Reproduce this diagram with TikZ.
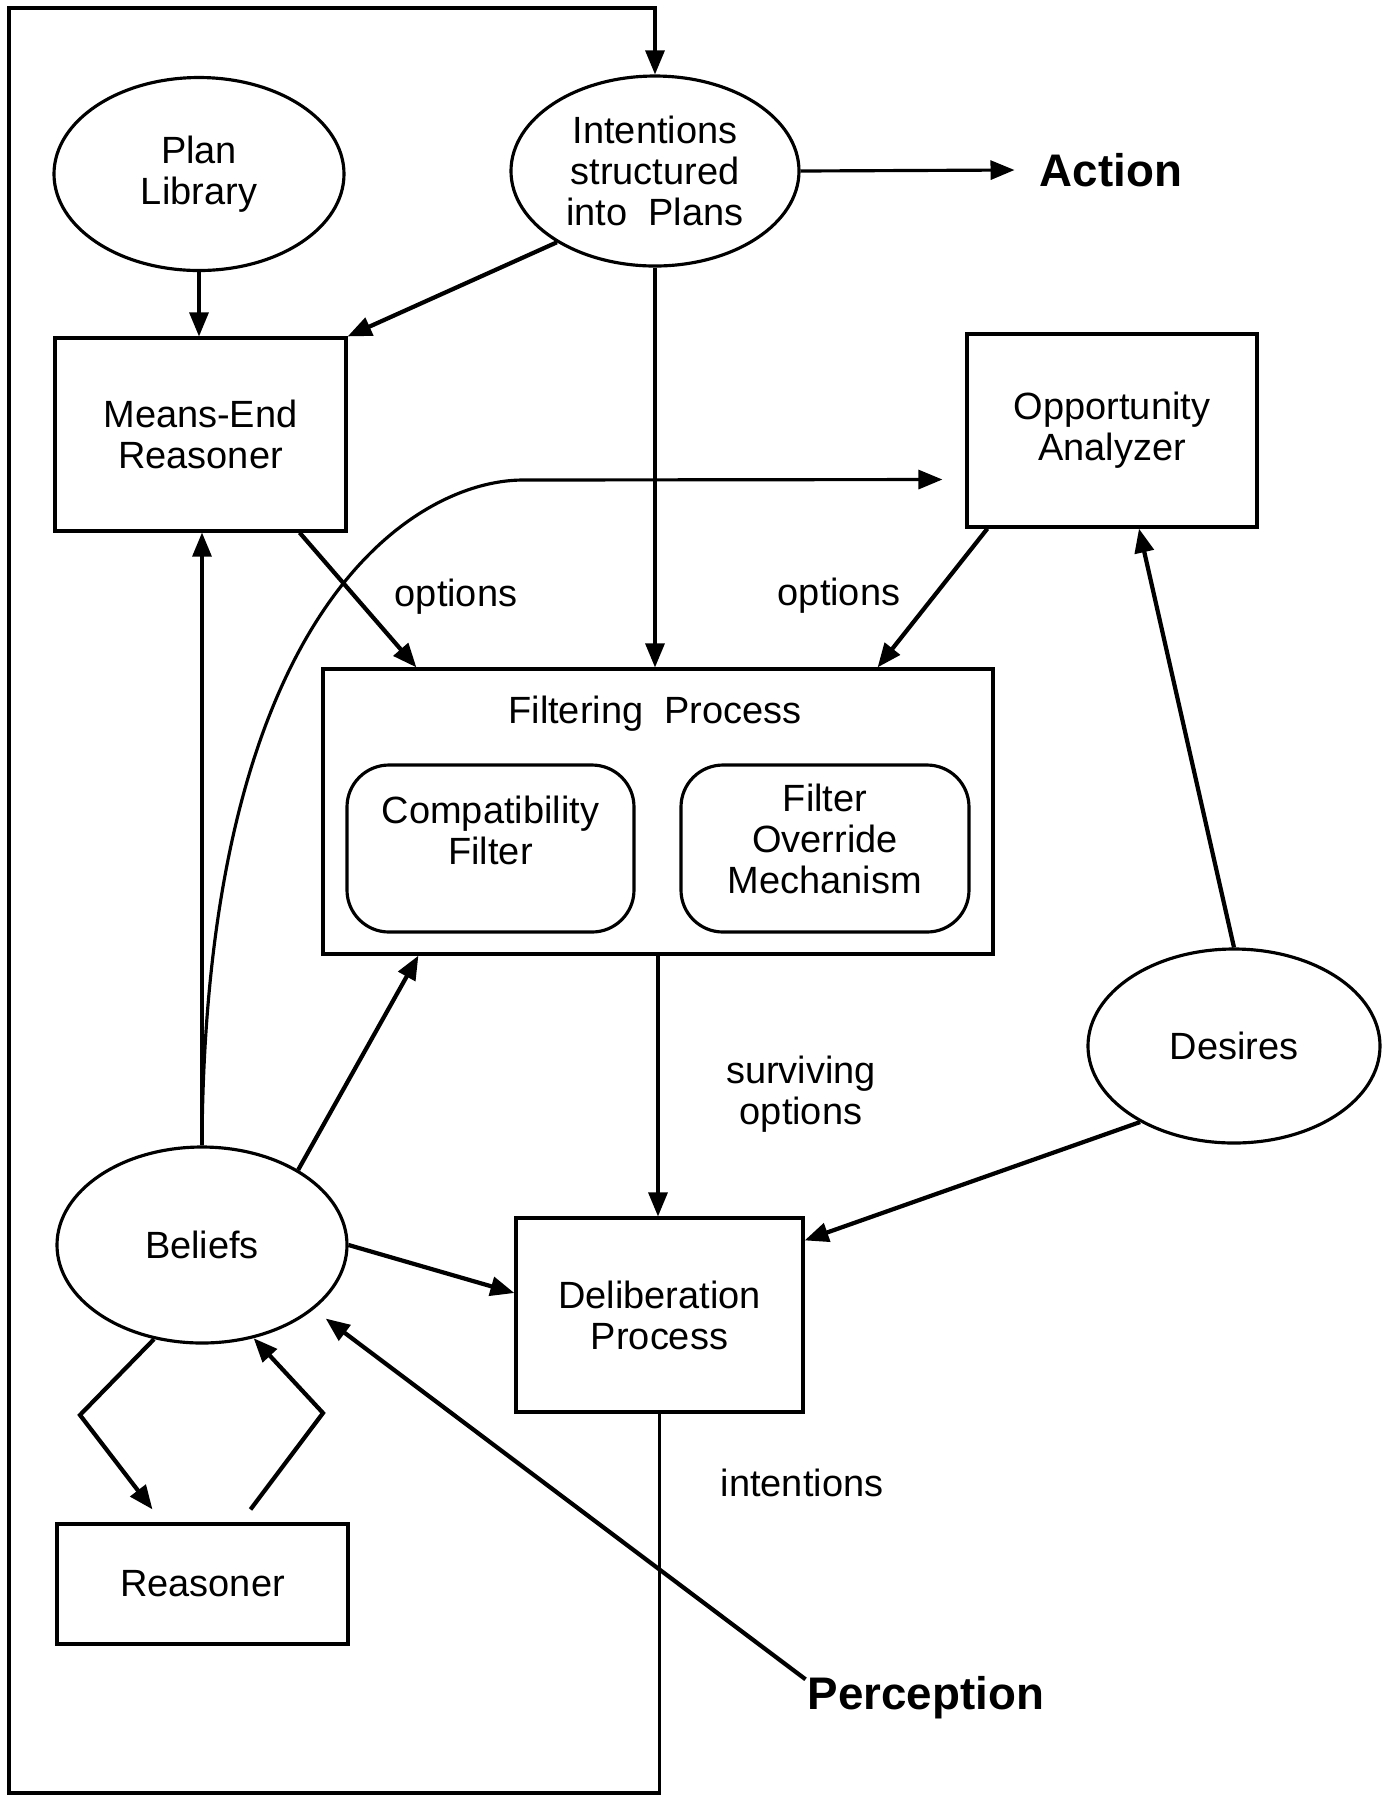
\documentclass[tikz,border=0pt]{standalone}
\usepackage{fontspec}
\setmainfont{Liberation Sans}
\usetikzlibrary{arrows.meta,shapes.geometric}
\tikzset{
    txt/.style={align=center, font=\fontsize{10.8}{11.7}\selectfont},
    box/.style={txt, draw, line width=0.9pt, inner sep=0pt},
    ell/.style={box, ellipse},
    fbox/.style={draw, line width=0.9pt, rounded corners=0.42cm, inner sep=0pt},
    big/.style={font=\fontsize{13}{15}\selectfont\bfseries},
    arr/.style={-{Triangle[length=0.24cm,width=0.19cm]}, line width=0.9pt},
    tarr/.style={arr, line width=1.2pt}
}
\begin{document}
\begin{tikzpicture}
        \useasboundingbox (0,0) rectangle (13.83,-17.97);
        \coordinate (bk) at (5.23,-4.80);
        \coordinate (lpa) at (0.09,-17.93);
        \coordinate (lpb) at (0.09,-0.08);
        \coordinate (lb) at (0.80,-14.15);
        \coordinate (rb) at (3.23,-14.13);
        \node (pl) at (1.99,-1.74) [ell, minimum width=2.90cm, minimum height=1.93cm] {Plan\\Library};
        \node (int) at (6.55,-1.71) [ell, minimum width=2.88cm, minimum height=1.90cm] {Intentions\\structured\\into\ \ Plans};
        \node (act) at (11.11,-1.70) [big] {Action};
        \node (me) at (2.005,-4.345) [box, minimum width=2.91cm, minimum height=1.93cm] {Means-End\\Reasoner};
        \node (oa) at (11.12,-4.305) [box, minimum width=2.90cm, minimum height=1.93cm] {Opportunity\\Analyzer};
        \node (filt) at (6.58,-8.115) [box, minimum width=6.70cm, minimum height=2.85cm] {};
        \node (ft) at (6.55,-7.14) [txt] {Filtering\ \ Process};
        \node (cf) at (4.905,-8.485) [fbox, minimum width=2.87cm, minimum height=1.67cm] {};
        \node (cft) at (4.905,-8.30) [txt] {Compatibility\\Filter};
        \node (fo) at (8.25,-8.485) [fbox, minimum width=2.88cm, minimum height=1.67cm] {};
        \node (fot) at (8.25,-8.39) [txt] {Filter\\Override\\Mechanism};
        \node (des) at (12.34,-10.46) [ell, minimum width=2.92cm, minimum height=1.94cm] {Desires};
        \node (bel) at (2.02,-12.45) [ell, minimum width=2.90cm, minimum height=1.96cm] {Beliefs};
        \node (del) at (6.595,-13.15) [box, minimum width=2.87cm, minimum height=1.94cm] {Deliberation\\Process};
        \node (rea) at (2.025,-15.84) [box, minimum width=2.91cm, minimum height=1.20cm] {Reasoner};
        \node (per) at (9.26,-16.98) [big] {Perception};
        \node (op1) at (4.56,-5.97) [txt] {options};
        \node (op2) at (8.39,-5.96) [txt] {options};
        \node (sv) at (8.01,-10.94) [txt] {surviving\\options};
        \node (in) at (8.02,-14.83) [txt] {intentions};
        \draw[arr] (pl.south) -- (pl.south |- me.north);
        \draw[tarr] (int.216) -- (me.north east);
        \draw[arr] (int.south) -- (int.south |- filt.north);
        \draw[arr] (int.east) -- ([xshift=-0.13cm]act.west);
        \draw[tarr] ([xshift=-0.48cm]me.south east) -- ([xshift=0.95cm]filt.north west);
        \draw[tarr] ([xshift=0.22cm]oa.south west) -- ([xshift=-1.17cm]filt.north east);
        \draw[arr] (bel.north) -- (bel.north |- me.south);
        \draw[arr] (bel.north) .. controls (2.05,-6.0) and (4.2,-4.80) .. (bk) -- ([xshift=-0.23cm,yshift=-0.49cm]oa.west);
        \draw[tarr] (bel.38) -- ([xshift=0.97cm]filt.south west);
        \draw[tarr] (bel.east) -- ([yshift=0.22cm]del.west);
        \draw[arr] (filt.south) -- (filt.south |- del.north);
        \draw[tarr] (des.219) -- ([yshift=-0.24cm]del.north east);
        \draw[tarr] (des.north) -- ([xshift=0.27cm]oa.south);
        \draw[tarr] (bel.243) -- (lb) -- ([xshift=-0.50cm,yshift=0.13cm]rea.north);
        \draw[tarr] ([xshift=0.48cm,yshift=0.13cm]rea.north) -- (rb) -- (bel.299);
        \draw[tarr, shorten >=0.15cm] ([xshift=0.1cm,yshift=-0.15cm]per.north west) -- (bel.330);
        \draw[arr] (del.south) |- (lpa) -- (lpb) -| (int.north);
    \end{tikzpicture}
\end{document}
